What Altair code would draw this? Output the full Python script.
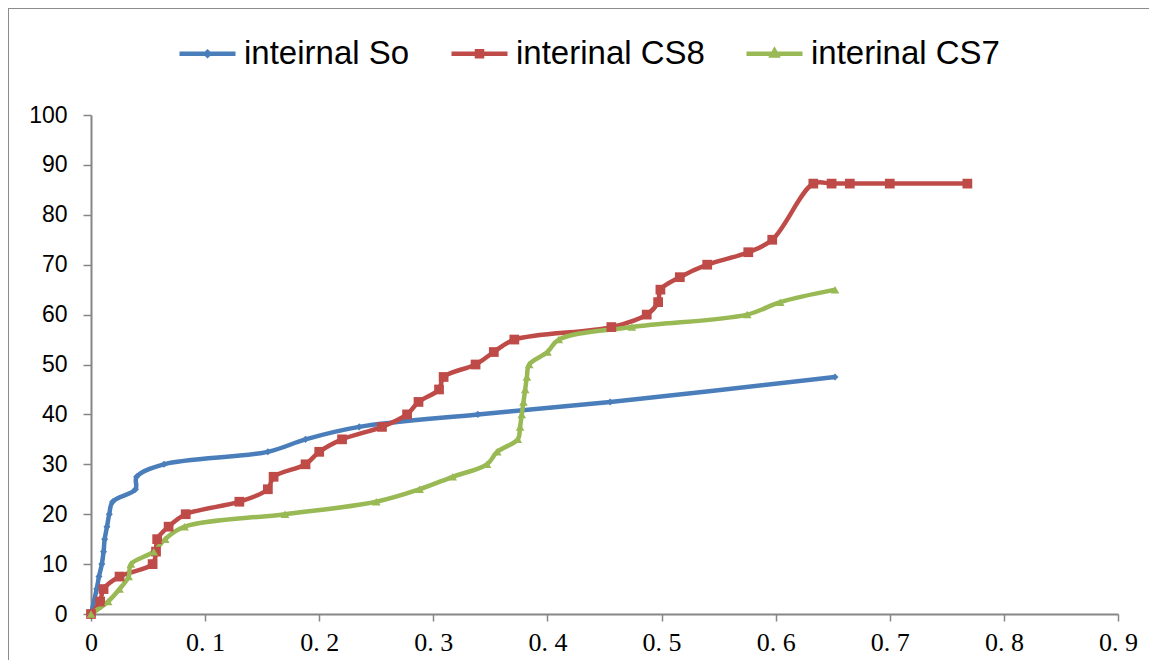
import altair as alt
import pandas as pd

series_names = ["inteirnal So", "interinal CS8", "interinal CS7"]

so_x = [0, 0.005, 0.007, 0.0095, 0.011, 0.012, 0.014, 0.016, 0.019, 0.039, 0.040, 0.064,
        0.155, 0.188, 0.235, 0.339, 0.455, 0.652]
so_y = [0, 5, 7.5, 10, 12.5, 15, 17.5, 20, 22.5, 25, 27.5, 30, 32.5, 35, 37.5, 40, 42.5, 47.5]

cs8_x = [0, 0.008, 0.011, 0.025, 0.054, 0.057, 0.058, 0.068, 0.083, 0.13, 0.155, 0.16,
         0.188, 0.2, 0.22, 0.255, 0.277, 0.287, 0.305, 0.309, 0.337, 0.353, 0.371, 0.456,
         0.487, 0.497, 0.499, 0.516, 0.54, 0.576, 0.597, 0.633, 0.649, 0.665, 0.70, 0.768]
cs8_y = [0, 2.5, 5, 7.5, 10, 12.5, 15, 17.5, 20, 22.5, 25, 27.5, 30, 32.5, 35, 37.5, 40,
         42.5, 45, 47.5, 50, 52.5, 55, 57.5, 60, 62.5, 65, 67.5, 70, 72.5, 75,
         86.25, 86.25, 86.25, 86.25, 86.25]

cs7_x = [0, 0.015, 0.025, 0.033, 0.035, 0.055, 0.065, 0.082, 0.17, 0.25, 0.288, 0.317,
         0.347, 0.356, 0.374, 0.376, 0.3775, 0.379, 0.3805, 0.382, 0.384, 0.40, 0.41,
         0.474, 0.575, 0.604, 0.652]
cs7_y = [0, 2.5, 5, 7.5, 10, 12.5, 15, 17.5, 20, 22.5, 25, 27.5, 30, 32.5, 35, 37.5, 40,
         42.5, 45, 47.5, 50, 52.5, 55, 57.5, 60, 62.5, 65]

x_ticks = [0, 0.1, 0.2, 0.3, 0.4, 0.5, 0.6, 0.7, 0.8, 0.9]
y_ticks = [0, 10, 20, 30, 40, 50, 60, 70, 80, 90, 100]

colors = ["#4A7EBB", "#BE4B48", "#98B954"]
shapes = ["diamond", "square", "triangle-up"]
marker_sizes = [50, 95, 75]

rows = []
for name, xs, ys in zip(series_names, [so_x, cs8_x, cs7_x], [so_y, cs8_y, cs7_y]):
    for i, (xv, yv) in enumerate(zip(xs, ys)):
        rows.append({"series": name, "x": xv, "y": yv, "i": i})
df = pd.DataFrame(rows)

axis_color = "#868686"
color_scale = alt.Scale(domain=series_names, range=colors)

x_enc = alt.X(
    "x:Q",
    scale=alt.Scale(domain=[0, 0.9], nice=False, zero=True),
    axis=alt.Axis(
        values=x_ticks, title=None, grid=False,
        labelExpr="datum.value == 0 ? '0' : replace(format(datum.value, '.1f'), '.', '. ')",
        labelFont="Liberation Serif", labelFontSize=26, labelColor="black",
        labelPadding=8, tickSize=7, tickColor=axis_color, domainColor=axis_color,
        domainWidth=2, tickWidth=1.5, labelFlush=False,
    ),
)
y_enc = alt.Y(
    "y:Q",
    scale=alt.Scale(domain=[0, 100], nice=False),
    axis=alt.Axis(
        values=y_ticks, title=None, grid=False,
        labelFont="Liberation Sans", labelFontSize=23, labelColor="black",
        labelPadding=16, tickSize=8, tickColor=axis_color, domainColor=axis_color,
        domainWidth=2, tickWidth=1.5,
    ),
)

# legend symbols: a stroked horizontal line plus the series marker
legend_sym = (
    "datum.value == 'inteirnal So' ? 'M-1,0H1M0,-0.06L0.06,0L0,0.06L-0.06,0Z' : "
    "datum.value == 'interinal CS8' ? 'M-1,0H1M-0.09,-0.09H0.09V0.09H-0.09Z' : "
    "'M-1,0H1M0,-0.1L0.09,0.06H-0.09Z'"
)

lines = alt.Chart(df).mark_line(interpolate="catmull-rom", strokeWidth=4.5).encode(
    x=x_enc,
    y=y_enc,
    color=alt.Color(
        "series:N", scale=color_scale, sort=series_names,
        legend=alt.Legend(
            title=None, orient="none", legendX=86, legendY=-92,
            direction="horizontal", symbolType=alt.ExprRef(expr=legend_sym),
            symbolSize=3136, symbolStrokeWidth=4.5,
            labelFont="Liberation Sans", labelFontSize=33, labelColor="black",
            labelOffset=6, columnPadding=32, padding=0, labelLimit=400,
        ),
    ),
    order="i:Q",
)

point_layers = []
for name, shp, sz in zip(series_names, shapes, marker_sizes):
    point_layers.append(
        alt.Chart(df)
        .transform_filter(alt.datum.series == name)
        .mark_point(filled=True, opacity=1, shape=shp, size=sz)
        .encode(
            x=x_enc,
            y=y_enc,
            color=alt.Color("series:N", scale=color_scale, sort=series_names, legend=None),
        )
    )

frame_df = pd.DataFrame({"a": [0]})
frame_left = alt.Chart(frame_df).mark_rule(color="#8c8c8c", strokeWidth=2).encode(
    x=alt.value(-83), y=alt.value(-107), y2=alt.value(560)
)
frame_top = alt.Chart(frame_df).mark_rule(color="#8c8c8c", strokeWidth=2).encode(
    x=alt.value(-83), x2=alt.value(1060), y=alt.value(-107)
)

chart = alt.layer(frame_left, frame_top, lines, *point_layers).properties(
    width=1027, height=499,
    autosize=alt.AutoSizeParams(type="none"),
    padding={"left": 83, "top": 107, "right": 31, "bottom": 46},
    background="white",
).configure_view(stroke=None)

chart.save("out.html", embed_options={"renderer": "svg", "actions": False})
